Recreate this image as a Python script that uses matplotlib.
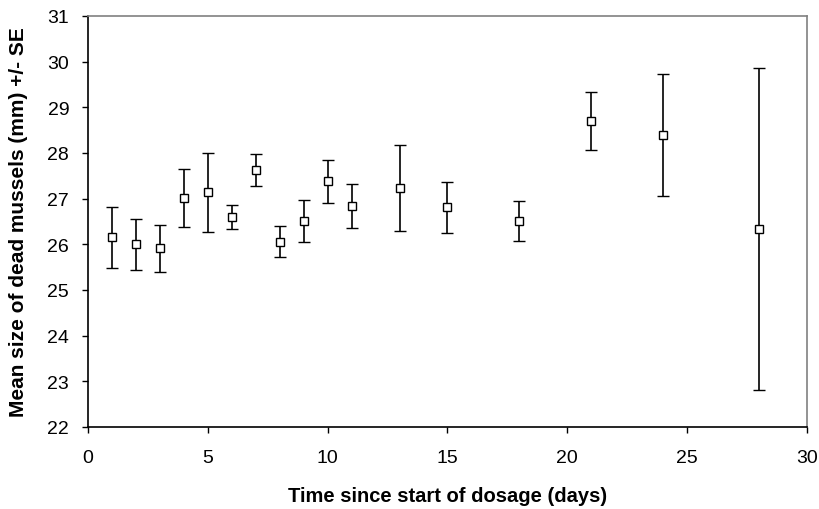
import matplotlib
matplotlib.use("Agg")
import matplotlib.pyplot as plt

# Mean size of dead mussels (mm) with SE, by day since start of dosage
days = [1, 2, 3, 4, 5, 6, 7, 8, 9, 10, 11, 13, 15, 18, 21, 24, 28]
mean_size = [26.15, 26.00, 25.91, 27.02, 27.14, 26.60, 27.62, 26.06, 26.51,
             27.38, 26.84, 27.23, 26.81, 26.51, 28.70, 28.40, 26.34]
se = [0.66, 0.56, 0.52, 0.64, 0.87, 0.27, 0.35, 0.34, 0.45,
      0.47, 0.48, 0.94, 0.56, 0.43, 0.64, 1.34, 3.52]

x_ticks = [0, 5, 10, 15, 20, 25, 30]
y_ticks = [22, 23, 24, 25, 26, 27, 28, 29, 30, 31]

plt.rcParams['font.family'] = ['Liberation Sans', 'DejaVu Sans']

fig = plt.figure(figsize=(8.19, 5.10), dpi=100)
ax = fig.add_axes([0.1074, 0.1608, 0.8779, 0.8059])

ax.errorbar(days, mean_size, yerr=se, fmt='s', color='black',
            markerfacecolor='white', markeredgecolor='black',
            markersize=6, markeredgewidth=1.0, elinewidth=1.2,
            capsize=4.3, capthick=1.2, zorder=3)

ax.set_xlim(0, 30)
ax.set_ylim(22, 31)
ax.set_xticks(x_ticks)
ax.set_yticks(y_ticks)
ax.tick_params(direction='out', length=4.5, width=1, labelsize=14)
ax.tick_params(axis='x', pad=11)
ax.tick_params(axis='y', pad=9)

for side in ['top', 'right']:
    ax.spines[side].set_color('#808080')
    ax.spines[side].set_linewidth(1.2)
for side in ['left', 'bottom']:
    ax.spines[side].set_color('black')
    ax.spines[side].set_linewidth(1.2)

# axis titles placed by centre, like the reference
fig.text(0.5464, 0.026, 'Time since start of dosage (days)', fontsize=14.5,
         fontweight='bold', ha='center', va='center')
fig.text(0.023, 0.5637, 'Mean size of dead mussels (mm) +/- SE', fontsize=15,
         fontweight='bold', ha='center', va='center', rotation=90)

fig.savefig('out.png', dpi=100)
